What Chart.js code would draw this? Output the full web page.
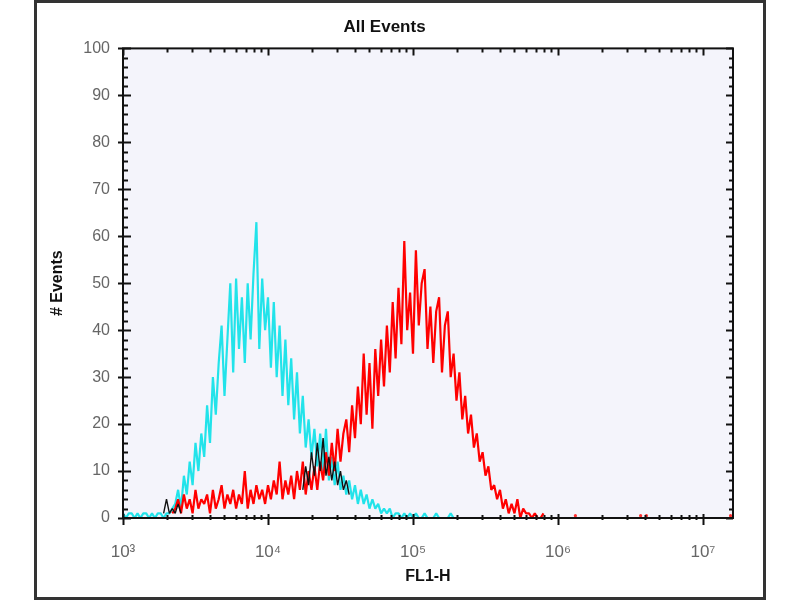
<!DOCTYPE html>
<html>
<head>
<meta charset="utf-8">
<script src="https://cdn.jsdelivr.net/npm/chart.js@4.4.0/dist/chart.umd.min.js"></script>
<style>
  html, body { margin:0; padding:0; background:#fff; }
  #wrap { position:relative; width:800px; height:600px; }
  #frame { position:absolute; left:34px; top:0; width:732px; height:600px; border:3px solid #333; box-sizing:border-box; pointer-events:none; }
</style>
</head>
<body>
<div id="wrap">
  <canvas id="histChart" width="800" height="600"></canvas>
  <div id="frame"></div>
</div>
<script>
// histogram bins are 0.02 decade wide on the FL1-H log axis
var binWidth = 0.02;

// cyan sample, first bin at 10^3.00
var cyanStart = 3.00;
var cyanCounts = [1,0,1,1,0,1,0,1,1,0,1,0,1,1,0,1,1,2,
  3,6,2,9,5,12,7,16,10,18,13,24,16,30,22,33,41,26,38,50,31,51,36,47,33,50,38,52,63,36,51,40,
  47,32,46,30,41,26,38,24,34,21,31,18,26,15,21,13,19,11,18,10,19,8,13,7,12,6,9,5,8,4,
  7,3,6,3,5,2,4,2,3,1,2,1,2,0,1,1,0,1,0,1,0,
  1,0,0,1,0,0,0,1,0,0,0,0,1,0,0];

// red sample, first bin at 10^3.34
var redStart = 3.34;
var redCounts = [1,2,4,1,5,2,4,1,6,2,4,3,5,1,6,2,4,7,2,5,3,6,2,5,3,10,
  2,6,3,7,4,6,3,7,4,8,5,12,4,8,5,9,4,10,6,12,5,10,6,11,
  6,12,8,14,9,16,10,19,12,18,21,14,24,17,28,20,35,22,33,19,36,26,38,28,41,31,46,34,49,37,
  59,40,48,35,57,41,50,53,36,45,33,44,47,31,41,44,30,35,25,31,21,26,18,22,15,18,12,14,9,11,
  6,7,4,6,2,4,1,3,1,4,0,2,1,1,0,1,0,0,1];

// stray red events far out on the axis
var redStrayExp = [6.12, 6.57, 6.61, 7.19];
var redStrayCounts = [0.5, 0.5, 0.5, 0.5];

// black sample, only visible where it shows over the others
var blackLowStart = 3.28;
var blackLowCounts = [1,4,1,2,1,3,1];
var blackMidStart = 4.24;
var blackMidCounts = [6,11,7,14,9,16,10,17,9,13,8,12,7,10,6,8,5];

var yTicksMax = 100;
var xMinExp = 3;
var xMaxExp = 7.207;

var supDigits = {'0':'⁰','1':'¹','2':'²','3':'³','4':'⁴','5':'⁵','6':'⁶','7':'⁷','8':'⁸','9':'⁹'};

function histPoints(start, counts) {
  return counts.map(function (c, i) {
    return { x: Math.pow(10, start + i * binWidth), y: c };
  });
}

function isDecade(v) {
  var e = Math.log10(v);
  return Math.abs(e - Math.round(e)) < 1e-9;
}

function isNiceLogTick(v) {
  var e = Math.floor(Math.log10(v) + 1e-9);
  var m = v / Math.pow(10, e);
  return Math.abs(m - Math.round(m)) < 1e-6;
}

var fontFamily = '"Liberation Sans", Arial, sans-serif';

var plotFrame = {
  id: 'plotFrame',
  beforeDraw: function (chart) {
    var a = chart.chartArea, ctx = chart.ctx;
    ctx.save();
    ctx.fillStyle = '#f4f4fb';
    ctx.fillRect(a.left, a.top, a.right - a.left, a.bottom - a.top);
    ctx.restore();
  },
  afterDatasetsDraw: function (chart) {
    var a = chart.chartArea, ctx = chart.ctx;
    var xs = chart.scales.x, ys = chart.scales.y;
    ctx.save();
    ctx.strokeStyle = '#111';
    ctx.lineWidth = 2;
    ctx.strokeRect(a.left, a.top, a.right - a.left, a.bottom - a.top);

    ctx.beginPath();
    xs.ticks.forEach(function (t) {
      if (!isNiceLogTick(t.value)) return;
      var px = Math.round(xs.getPixelForValue(t.value)) + 0.5;
      var major = isDecade(t.value);
      ctx.moveTo(px, a.bottom - (major ? 4 : 3));
      ctx.lineTo(px, a.bottom + (major ? 7 : 2));
      ctx.moveTo(px, a.top);
      ctx.lineTo(px, a.top + (major ? 7 : 4));
    });
    ys.ticks.forEach(function (t) {
      var py = Math.round(ys.getPixelForValue(t.value)) + 0.5;
      var major = t.value % 10 === 0;
      ctx.moveTo(a.left - (major ? 5 : 1), py);
      ctx.lineTo(a.left + (major ? 8 : 5), py);
      ctx.moveTo(a.right - (major ? 7 : 4), py);
      ctx.lineTo(a.right, py);
    });
    ctx.stroke();
    ctx.restore();
  }
};

var ctx = document.getElementById('histChart');
var histChart = new Chart(ctx, {
  type: 'line',
  data: {
    datasets: [
      { label: 'black low', data: histPoints(blackLowStart, blackLowCounts), borderColor: '#111', borderWidth: 1.4 },
      { label: 'black mid', data: histPoints(blackMidStart, blackMidCounts), borderColor: '#111', borderWidth: 1.4 },
      { label: 'red', data: histPoints(redStart, redCounts), borderColor: '#ff0000', borderWidth: 2.2 },
      { label: 'red stray', data: redStrayExp.map(function (e, i) { return { x: Math.pow(10, e), y: redStrayCounts[i] }; }),
        showLine: false, pointRadius: 1.6, pointBackgroundColor: '#ff3030', pointBorderWidth: 0 },
      { label: 'cyan', data: histPoints(cyanStart, cyanCounts), borderColor: '#22e3ea', borderWidth: 2.2 }
    ]
  },
  options: {
    responsive: false,
    animation: false,
    layout: { padding: { left: 36, right: 67, top: 0, bottom: 4 } },
    elements: { point: { radius: 0 }, line: { tension: 0, borderJoinStyle: 'bevel' } },
    plugins: {
      legend: { display: false },
      tooltip: { enabled: false },
      title: {
        display: true, text: 'All Events', color: '#111',
        font: { family: fontFamily, size: 17, weight: 'bold' },
        padding: { top: 17, bottom: 11 }
      }
    },
    scales: {
      x: {
        type: 'logarithmic',
        min: Math.pow(10, xMinExp),
        max: Math.pow(10, xMaxExp),
        grid: { display: false, drawTicks: false },
        border: { display: false },
        ticks: {
          autoSkip: false, maxRotation: 0, padding: 24, color: '#666',
          font: { family: fontFamily, size: 17 },
          callback: function (v) {
            if (!isDecade(v)) return '';
            var e = String(Math.round(Math.log10(v)));
            return '10' + e.split('').map(function (d) { return supDigits[d]; }).join('');
          }
        },
        title: {
          display: true, text: 'FL1-H', color: '#111',
          font: { family: fontFamily, size: 16, weight: 'bold' },
          padding: { top: 0, bottom: 10 }
        },
        afterFit: function (scale) { scale.height = 78; }
      },
      y: {
        min: 0, max: yTicksMax,
        grid: { display: false, drawTicks: false },
        border: { display: false },
        ticks: {
          stepSize: 2, autoSkip: false, padding: 13, color: '#666',
          font: { family: fontFamily, size: 16 },
          callback: function (v) { return v % 10 === 0 ? String(v) : ''; }
        },
        title: {
          display: true, text: '# Events', color: '#111',
          font: { family: fontFamily, size: 16, weight: 'bold' },
          padding: { top: 12, bottom: 0 }
        },
        afterFit: function (scale) { scale.width = 87; }
      }
    }
  },
  plugins: [plotFrame]
});
</script>
</body>
</html>
